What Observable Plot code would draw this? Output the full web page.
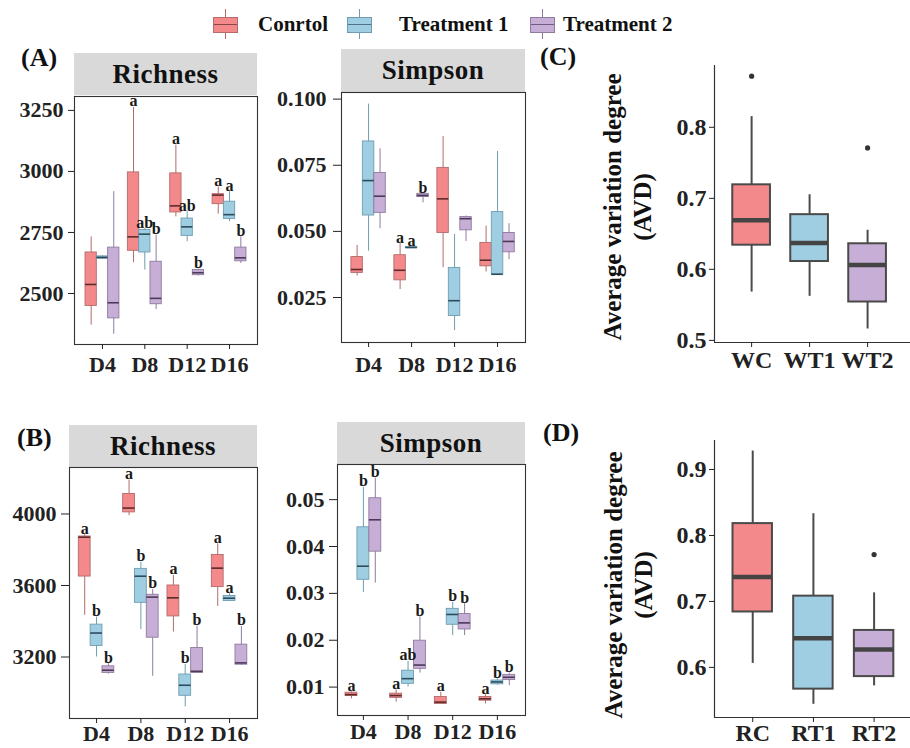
<!DOCTYPE html>
<html><head><meta charset="utf-8">
<script src="https://cdn.jsdelivr.net/npm/d3@7"></script>
<script src="https://cdn.jsdelivr.net/npm/@observablehq/plot@0.6"></script>
<style>
body{margin:0;background:#fff;}
#root{position:relative;width:910px;height:748px;overflow:hidden;background:#fff;
 font-family:"Liberation Serif","Times New Roman",serif;font-weight:bold;color:#111;}
#root svg, #root svg g, #root svg text{font-family:"Liberation Serif","Times New Roman",serif !important;font-weight:bold !important;}
.strip{position:absolute;background:#d9d9d9;display:flex;align-items:center;justify-content:center;
 font-size:27px;letter-spacing:0.5px;color:#111;}
.plab{position:absolute;font-size:26px;line-height:26px;color:#111;}
.legtext{position:absolute;font-size:21px;line-height:21px;color:#111;}
.sw{position:absolute;}
.ylab{position:absolute;width:330px;height:60px;font-size:25px;line-height:30px;text-align:center;transform:rotate(-90deg);color:#111;}
</style></head>
<body><div id="root"></div>
<script>
// ---------- data ----------
const days = ["D4", "D8", "D12", "D16"];
const groups = ["Conrtol", "Treatment 1", "Treatment 2"];
const fills = ["#F4898B", "#9FCEE2", "#C7AED6"];
const edge = ["#B36B6B", "#6E9DB1", "#8F7B9E"];
const medc = ["#5e2b2b", "#2d4c5c", "#4a3a57"];

// five-number summaries per day [min, q1, median, q3, max]
// (A) Richness
const richA_C  = [[2370,2449,2537,2668,2732],[2626,2675,2732,2996,3262],[2814,2832,2859,2992,3108],[2825,2866,2903,2907,2937]];
const richA_T1 = [[2640,2642,2648,2652,2655],[2596,2668,2743,2760,2766],[2712,2736,2773,2807,2835],[2794,2805,2823,2876,2917]];
const richA_T2 = [[2333,2398,2462,2688,2917],[2434,2456,2480,2630,2739],[2572,2575,2585,2596,2600],[2623,2632,2646,2688,2732]];
const richA_L  = [["","a","a","a"],["","ab","ab","a"],["","b","b","b"]];
const richA_ticks = [2500, 2750, 3000, 3250];

// (A) Simpson
const simpA_C  = [[0.0331,0.0343,0.0356,0.0403,0.0447],[0.0280,0.0315,0.0353,0.0410,0.0454],[0.0363,0.0494,0.0623,0.0740,0.0859],[0.0347,0.0368,0.0391,0.0456,0.0520]];
const simpA_T1 = [[0.0425,0.0560,0.0692,0.0840,0.0981],[0.0437,0.0437,0.0439,0.0441,0.0441],[0.0125,0.0180,0.0238,0.0362,0.0489],[0.0337,0.0337,0.0338,0.0573,0.0802]];
const simpA_T2 = [[0.0510,0.0570,0.0633,0.0721,0.0812],[0.0608,0.0630,0.0636,0.0642,0.0642],[0.0462,0.0504,0.0548,0.0554,0.0558],[0.0393,0.0421,0.0462,0.0494,0.0529]];
const simpA_L  = [["","a","",""],["","a","",""],["","b","",""]];
const simpA_ticks = [0.025, 0.050, 0.075, 0.100];

// (B) Richness
const richB_C  = [[3433,3650,3870,3874,3885],[3991,4009,4033,4112,4190],[3340,3427,3531,3600,3656],[3483,3591,3697,3771,3833]];
const richB_T1 = [[3200,3262,3334,3381,3423],[3353,3503,3652,3693,3730],[2921,2983,3042,3102,3159],[3510,3513,3529,3541,3554]];
const richB_T2 = [[3104,3111,3126,3148,3163],[3092,3308,3535,3548,3578],[3111,3111,3120,3250,3373],[3154,3157,3167,3269,3371]];
const richB_L  = [["a","a","a","a"],["b","b","b","a"],["b","b","b","b"]];
const richB_ticks = [3200, 3600, 4000];

// (B) Simpson
const simpB_C  = [[0.0075,0.0081,0.0084,0.0088,0.0090],[0.0068,0.0077,0.0082,0.0086,0.0094],[0.0064,0.0064,0.0068,0.0079,0.0089],[0.0064,0.0071,0.0075,0.0079,0.0084]];
const simpB_T1 = [[0.0302,0.0329,0.0358,0.0441,0.0526],[0.0100,0.0107,0.0118,0.0135,0.0155],[0.0210,0.0233,0.0255,0.0267,0.0281],[0.0104,0.0106,0.0111,0.0114,0.0118]];
const simpB_T2 = [[0.0322,0.0389,0.0457,0.0503,0.0546],[0.0130,0.0139,0.0147,0.0199,0.0250],[0.0210,0.0223,0.0237,0.0256,0.0278],[0.0103,0.0115,0.0121,0.0126,0.0130]];
const simpB_L  = [["a","a","a","a"],["b","ab","b","b"],["b","b","b","b"]];
const simpB_ticks = [0.01, 0.02, 0.03, 0.04, 0.05];

// (C) AVD
const avdW_groups = ["WC", "WT1", "WT2"];
const avdW = [[0.568,0.634,0.669,0.719,0.815],[0.562,0.611,0.637,0.677,0.705],[0.516,0.554,0.606,0.636,0.655]];
const avdW_out = [[0.872],[],[0.771]];
const avdW_ticks = [0.5, 0.6, 0.7, 0.8];

// (D) AVD
const avdR_groups = ["RC", "RT1", "RT2"];
const avdR = [[0.606,0.684,0.737,0.818,0.928],[0.544,0.567,0.644,0.708,0.833],[0.572,0.586,0.627,0.656,0.713]];
const avdR_out = [[],[],[0.771]];
const avdR_ticks = [0.6, 0.7, 0.8, 0.9];

// ---------- drawing ----------
const root = document.getElementById("root");
const FONT = "Liberation Serif, Times New Roman, serif";
const baseStyle = {background:"transparent", overflow:"visible", fontFamily:FONT, fontWeight:"bold", color:"#222"};

function place(svg, left, top){
  svg.style.position = "absolute"; svg.style.left = left + "px"; svg.style.top = top + "px";
  root.append(svg);
}

function dodgePanel(o){
  const mL=75, mR=8, mT=26, mB=44, bw=0.8/3;
  const rows=[];
  o.series.forEach((arr,g)=>arr.forEach((s,i)=>rows.push({i,g,pos:i+(g-1)*bw,
    min:s[0],q1:s[1],med:s[2],q3:s[3],max:s[4],letter:o.letters[g][i]})));
  const h = bw/2;
  const svg = Plot.plot({
    width:o.x1-o.x0+mL+mR, height:o.y1-o.y0+mT+mB,
    marginLeft:mL, marginRight:mR, marginTop:mT, marginBottom:mB,
    x:{domain:o.xdom}, y:{domain:o.ydom},
    style:baseStyle,
    marks:[
      Plot.ruleX(rows,{x:"pos", y1:"min", y2:"max", stroke:d=>edge[d.g], strokeWidth:1}),
      Plot.rect(rows,{x1:d=>d.pos-h, x2:d=>d.pos+h, y1:"q1", y2:"q3", fill:d=>fills[d.g], stroke:d=>edge[d.g], strokeWidth:0.9, inset:0}),
      Plot.ruleY(rows,{y:"med", x1:d=>d.pos-h, x2:d=>d.pos+h, stroke:d=>medc[d.g], strokeWidth:1.6}),
      Plot.text(rows.filter(d=>d.letter),{x:"pos", y:"max", text:"letter", lineAnchor:"bottom", dy:-1,
        fontSize:16, fontWeight:"bold", fontFamily:FONT, fill:"#1a1a1a"}),
      Plot.frame({stroke:"#333", strokeWidth:1.1}),
      Plot.axisY({ticks:o.yticks, tickFormat:o.yfmt, tickSize:o.yts, tickPadding:o.ytp, fontSize:22, fontFamily:FONT, fontWeight:"bold", label:null}),
      Plot.axisX({ticks:[0,1,2,3], tickFormat:i=>days[i], tickSize:5, tickPadding:o.xtp, fontSize:22, fontFamily:FONT, fontWeight:"bold", label:null})
    ]
  });
  place(svg, o.x0-mL, o.y0-mT);
}

function avdPanel(o){
  const mL=60, mR=4, mT=10, mB=44, bw=0.65;
  const rows = o.stats.map((s,i)=>({i, min:s[0],q1:s[1],med:s[2],q3:s[3],max:s[4]}));
  const outs = [];
  o.outs.forEach((arr,i)=>arr.forEach(v=>outs.push({i,v})));
  const svg = Plot.plot({
    width:o.x1-o.x0+mL+mR, height:o.y1-o.y0+mT+mB,
    marginLeft:mL, marginRight:mR, marginTop:mT, marginBottom:mB,
    x:{domain:o.xdom}, y:{domain:o.ydom},
    style:baseStyle,
    marks:[
      Plot.ruleX(rows,{x:"i", y1:"min", y2:"max", stroke:"#4a4a4a", strokeWidth:2}),
      Plot.rect(rows,{x1:d=>d.i-bw/2, x2:d=>d.i+bw/2, y1:"q1", y2:"q3", fill:d=>fills[d.i], stroke:"#4a4a4a", strokeWidth:2}),
      Plot.ruleY(rows,{y:"med", x1:d=>d.i-bw/2, x2:d=>d.i+bw/2, stroke:"#444", strokeWidth:4.5}),
      Plot.dot(outs,{x:"i", y:"v", r:2.6, fill:"#333", stroke:null}),
      Plot.ruleX([o.xdom[0]],{stroke:"#333", strokeWidth:1.2}),
      Plot.ruleY([o.ydom[0]],{stroke:"#333", strokeWidth:1.2}),
      Plot.axisY({ticks:o.yticks, tickFormat:d3.format(".1f"), tickSize:5, tickPadding:3, fontSize:24, fontFamily:FONT, fontWeight:"bold", label:null}),
      Plot.axisX({ticks:[0,1,2], tickFormat:i=>o.labels[i], tickSize:5, tickPadding:o.xtp, fontSize:24, fontFamily:FONT, fontWeight:"bold", label:null})
    ]
  });
  place(svg, o.x0-mL, o.y0-mT);
}

function strip(text, left, top, w, h){
  const d=document.createElement("div"); d.className="strip";
  Object.assign(d.style,{left:left+"px", top:top+"px", width:w+"px", height:h+"px"});
  d.textContent=text; root.append(d);
}
function plab(text, left, top){
  const d=document.createElement("div"); d.className="plab";
  Object.assign(d.style,{left:left+"px", top:top+"px"}); d.textContent=text; root.append(d);
}
function ylab(cx, cy){
  const d=document.createElement("div"); d.className="ylab";
  Object.assign(d.style,{left:(cx-165)+"px", top:(cy-30)+"px"});
  d.innerHTML="Average variation degree<br>(AVD)"; root.append(d);
}
function swatch(g, left, textLeft){
  const s=document.createElement("div"); s.className="sw";
  Object.assign(s.style,{left:left+"px", top:"9px", width:"25px", height:"30px"});
  s.innerHTML=`<div style="position:absolute;left:12px;top:0;width:1px;height:30px;background:${edge[g]}"></div>
   <div style="position:absolute;left:0;top:8px;width:23px;height:14px;background:${fills[g]};border:1px solid ${edge[g]}"></div>
   <div style="position:absolute;left:1px;top:15px;width:23px;height:1px;background:${medc[g]};opacity:0.7"></div>`;
  root.append(s);
  const t=document.createElement("div"); t.className="legtext";
  Object.assign(t.style,{left:textLeft+"px", top:"14px"}); t.textContent=groups[g]; root.append(t);
}

// legend
swatch(0, 213, 258);
swatch(1, 347, 399);
swatch(2, 530, 563);

// strips
strip("Richness", 74, 53, 183, 42);
strip("Simpson", 341, 49, 184, 43);
strip("Richness", 69, 425, 188, 42);
strip("Simpson", 337, 422, 188, 42);

// panel letters
plab("(A)", 21, 45);
plab("(B)", 17, 425);
plab("(C)", 540, 44);
plab("(D)", 543, 420);

// panels
dodgePanel({x0:74, x1:257, y0:96, y1:344, xdom:[-0.66,3.66], ydom:[2291,3307],
  series:[richA_C,richA_T1,richA_T2], letters:richA_L, yticks:richA_ticks, yfmt:d3.format("d"), yts:6, ytp:5, xtp:7});
dodgePanel({x0:341, x1:525, y0:92, y1:342, xdom:[-0.63,3.65], ydom:[0.0080,0.1025],
  series:[simpA_C,simpA_T1,simpA_T2], letters:simpA_L, yticks:simpA_ticks, yfmt:d3.format(".3f"), yts:8, ytp:7, xtp:9});
dodgePanel({x0:69, x1:257, y0:467, y1:718, xdom:[-0.61,3.63], ydom:[2856,4260],
  series:[richB_C,richB_T1,richB_T2], letters:richB_L, yticks:richB_ticks, yfmt:d3.format("d"), yts:8, ytp:5, xtp:2});
dodgePanel({x0:337, x1:525, y0:464, y1:715, xdom:[-0.58,3.63], ydom:[0.00394,0.0575],
  series:[simpB_C,simpB_T1,simpB_T2], letters:simpB_L, yticks:simpB_ticks, yfmt:d3.format(".2f"), yts:8, ytp:5, xtp:3});

avdPanel({x0:714, x1:910, y0:65, y1:342, xdom:[-0.64,2.74], ydom:[0.497,0.887],
  stats:avdW, outs:avdW_out, labels:avdW_groups, yticks:avdW_ticks, xtp:3});
avdPanel({x0:714, x1:910, y0:440, y1:717, xdom:[-0.63,2.6], ydom:[0.524,0.944],
  stats:avdR, outs:avdR_out, labels:avdR_groups, yticks:avdR_ticks, xtp:1});

ylab(628, 207);
ylab(629, 585);
</script>
</body></html>
